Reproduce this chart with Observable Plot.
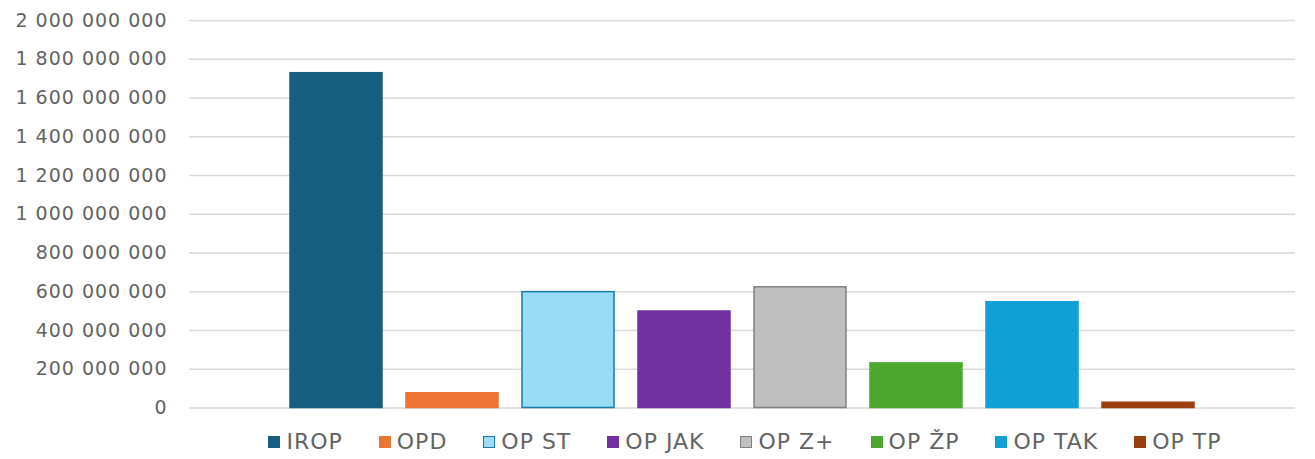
<!DOCTYPE html>
<html>
<head>
<meta charset="utf-8">
<script src="https://cdn.jsdelivr.net/npm/d3@7"></script>
<script src="https://cdn.jsdelivr.net/npm/@observablehq/plot@0.6"></script>
<style>
  html, body { margin: 0; padding: 0; background: #fff; }
  #chart { width: 1315px; }
  .legend { display: flex; justify-content: center; align-items: center; gap: 36px;
    font-family: "DejaVu Sans", sans-serif; font-size: 22px; color: #636363; letter-spacing: 1px;
    width: 1315px; height: 39px; padding-top: 4px; padding-left: 175px; box-sizing: border-box; }
  .legend .item { display: flex; align-items: center; }
  .legend .sw { width: 12px; height: 12px; margin-right: 6px; box-sizing: border-box; }
</style>
</head>
<body>
<div id="chart"></div>
<script>
const programs = ["IROP", "OPD", "OP ST", "OP JAK", "OP Z+", "OP ŽP", "OP TAK", "OP TP"];
const amounts = [1728000000, 76000000, 598000000, 498000000, 623000000, 230000000, 546000000, 27000000];
const fills = ["#175f81", "#ec7533", "#98dcf6", "#7030a0", "#bfbfbf", "#4ea72e", "#11a0d6", "#9b3f10"];
const strokes = ["#175f81", "#ec7533", "#1a7aab", "#7030a0", "#808080", "#4ea72e", "#11a0d6", "#9b3f10"];
const yTicks = [0, 200000000, 400000000, 600000000, 800000000, 1000000000, 1200000000, 1400000000, 1600000000, 1800000000, 2000000000];

const data = programs.map((name, i) => ({name, value: amounts[i], fill: fills[i], stroke: strokes[i]}));
const fmt = d => d3.format(",")(d).replace(/,/g, " ");

const plot = Plot.plot({
  width: 1315,
  height: 420,
  marginLeft: 189,
  marginRight: 20,
  marginTop: 20,
  marginBottom: 12.5,
  style: {fontFamily: "DejaVu Sans, sans-serif", fontSize: "19px", color: "#636363", background: "#fff", letterSpacing: "1px"},
  x: {domain: programs, paddingInner: 0.21, paddingOuter: 0.86, axis: null},
  y: {domain: [0, 2000000000], label: null},
  color: {type: "identity"},
  marks: [
    Plot.gridY(yTicks, {stroke: "#d9d9d9", strokeOpacity: 1, strokeWidth: 1.5}),
    Plot.axisY(yTicks, {tickFormat: fmt, tickSize: 0, tickPadding: 22, label: null, fill: "#636363"}),
    Plot.barY(data, {x: "name", y: "value", fill: "fill", stroke: "stroke", strokeWidth: 1.5})
  ]
});
document.getElementById("chart").appendChild(plot);

const legend = document.createElement("div");
legend.className = "legend";
programs.forEach((name, i) => {
  const item = document.createElement("div");
  item.className = "item";
  const sw = document.createElement("div");
  sw.className = "sw";
  sw.style.background = fills[i];
  sw.style.border = "1.5px solid " + strokes[i];
  const label = document.createElement("span");
  label.textContent = name;
  item.appendChild(sw);
  item.appendChild(label);
  legend.appendChild(item);
});
document.getElementById("chart").appendChild(legend);
</script>
</body>
</html>
